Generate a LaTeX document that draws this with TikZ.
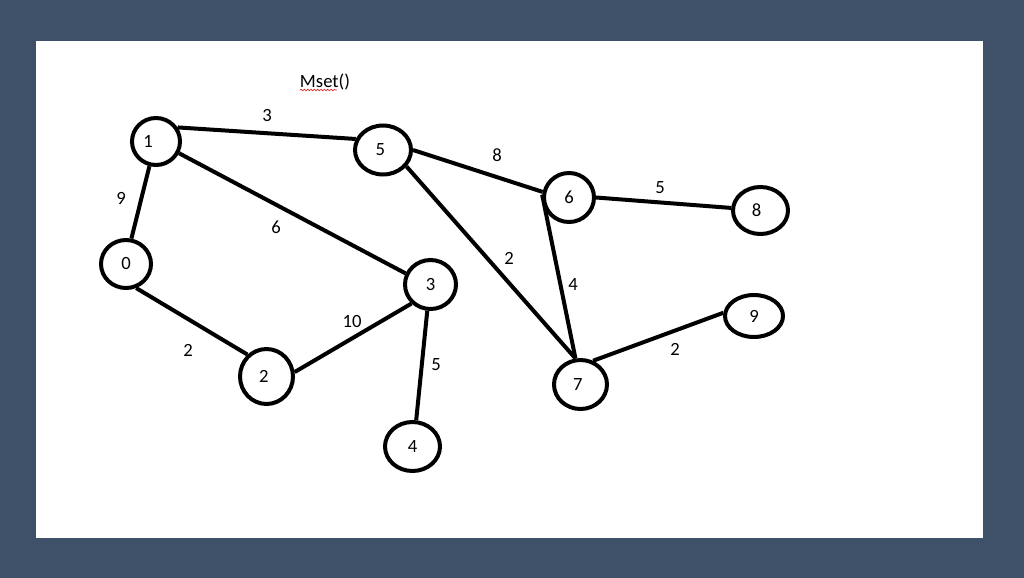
\documentclass[tikz,border=0pt]{standalone}
\usepackage{fontspec}
\setmainfont{Carlito}
\usetikzlibrary{shapes.geometric,decorations.pathmorphing}
\definecolor{framec}{RGB}{63,81,104}
\definecolor{spellred}{RGB}{220,40,40}
\tikzset{
  vtx/.style n args={2}{draw=black, line width=3pt, ellipse, inner sep=0pt,
     minimum width=#1*0.75pt, minimum height=#2*0.75pt,
     font=\fontsize{14}{16}\selectfont},
  edge/.style={draw=black, line width=3pt},
  wt/.style={font=\fontsize{14}{16}\selectfont, inner sep=1pt},
}
\begin{document}
\begin{tikzpicture}[x=0.75pt,y=-0.75pt]
\useasboundingbox (0,0) rectangle (1024,578);
\fill[framec] (0,0) rectangle (1024,578);
\fill[white] (36,41) rectangle (983,538);

\node (title) at (325,82) {\fontsize{14}{16}\selectfont Mset()};
\coordinate (ul1) at (300,90);
\coordinate (ul2) at (337,90);
\draw[spellred, line width=0.5pt, decorate, decoration={snake, amplitude=0.6pt, segment length=2.5pt}] (ul1) -- (ul2);

\node[vtx={48}{47}] (n1) at (156,141.5) {\hspace*{-12pt}1};
\node[vtx={56}{49}] (n5) at (383,150) {\hspace*{-4pt}5};
\node[vtx={50}{48}] (n0) at (126,264) {0};
\node[vtx={51}{49}] (n3) at (430.5,284.5) {3};
\node[vtx={53}{55}] (n2) at (266.5,376.5) {\hspace*{-4pt}2};
\node[vtx={55}{49}] (n4) at (412.5,446.5) {4};
\node[vtx={50}{49}] (n6) at (569,197.5) {6};
\node[vtx={55}{47}] (n8) at (760.5,210.5) {\hspace*{-6pt}8};
\node[vtx={58}{42}] (n9) at (754,316) {9};
\node[vtx={53}{49}] (n7) at (580.5,384.5) {\hspace*{-4pt}7};

\draw[edge] (n1.33) -- (n5.158);
\draw[edge] (n1.-105) -- (n0.78);
\draw[edge] (n1.-27) -- (n3.156);
\draw[edge] (n0.-67) -- (n2.131);
\draw[edge] (n2.9) -- (n3.-135);
\draw[edge] (n3.-97) -- (n4.82);
\draw[edge] (n5.0) -- (n6.168);
\draw[edge] (n5.-35) -- (n7.101);
\draw[edge] (n6.174) -- (n7.101);
\draw[edge] (n6.0) -- (n8.175);
\draw[edge] (n7.62) -- (n9.174);

\node[wt] (w15) at (267,116) {3};
\node[wt] (w10) at (121,198) {9};
\node[wt] (w13) at (276,227) {6};
\node[wt] (w56) at (497,155) {8};
\node[wt] (w68) at (660,188) {5};
\node[wt] (w57) at (509,258) {2};
\node[wt] (w67) at (573,285) {4};
\node[wt] (w23) at (352,322) {10};
\node[wt] (w02) at (188,350) {2};
\node[wt] (w34) at (436,365) {5};
\node[wt] (w79) at (675,349) {2};
\end{tikzpicture}
\end{document}
